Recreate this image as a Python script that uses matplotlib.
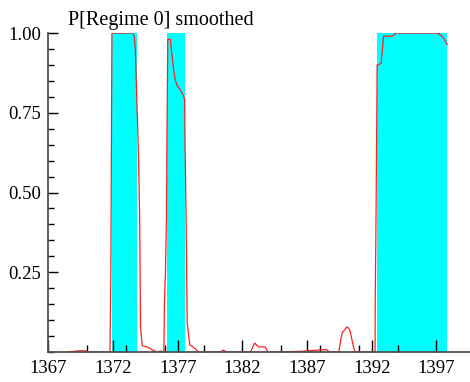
#! /usr/bin/env python3
# -*- coding: UTF-8 -*-
import matplotlib
matplotlib.use('Agg')
from matplotlib import pyplot as plt
from matplotlib.ticker import MultipleLocator, FixedLocator

# smoothed regime probability (year, probability)
years = [1368.47, 1369.40, 1369.86, 1370.02, 1371.76, 1371.83, 1371.91,
         1373.55, 1373.65, 1373.73, 1373.86, 1373.91, 1373.98, 1374.06,
         1374.12, 1374.25, 1374.76, 1375.04, 1375.41, 1375.66, 1375.93,
         1375.97, 1376.05, 1376.13, 1376.16, 1376.23, 1376.44, 1376.49,
         1376.67, 1376.82, 1376.98, 1377.21, 1377.44, 1377.54, 1377.56,
         1377.65, 1377.73, 1377.93, 1378.37, 1378.60, 1380.30, 1380.53,
         1380.77, 1382.62, 1382.95, 1383.26, 1383.78, 1383.96, 1386.49,
         1388.50, 1388.73, 1389.45, 1389.71, 1390.10, 1390.30, 1390.61,
         1390.74, 1392.26, 1392.27, 1392.34, 1392.42, 1392.47, 1392.73,
         1392.76, 1392.83, 1392.91, 1393.58, 1393.89, 1396.93, 1397.19,
         1397.45, 1397.70, 1397.84]
prob = [0.0, 0.004, 0.004, 0.0, 0.0, 0.25, 1.0,
        1.0, 0.985, 0.94, 0.76, 0.70, 0.59, 0.41,
        0.08, 0.02, 0.014, 0.006, 0.0, 0.003, 0.0,
        0.15, 0.25, 0.42, 0.64, 0.98, 0.98, 0.955,
        0.89, 0.85, 0.834, 0.821, 0.805, 0.79, 0.676,
        0.41, 0.092, 0.023, 0.01, 0.0, 0.0, 0.006,
        0.0, 0.0, 0.028, 0.016, 0.016, 0.0, 0.002,
        0.008, 0.0, 0.0, 0.06, 0.079, 0.07, 0.013,
        0.0, 0.0, 0.15, 0.45, 0.90, 0.90, 0.905,
        0.92, 0.95, 0.99, 0.99, 1.0, 1.0, 0.997,
        0.99, 0.975, 0.964]

# classified regime 0 periods (start, end)
regime_start = [1371.93, 1376.18, 1392.44]
regime_end = [1373.86, 1377.60, 1397.86]

xticks_major = [1367, 1372, 1377, 1382, 1387, 1392, 1397]
yticks_major = [0.25, 0.50, 0.75, 1.00]

plt.rcParams['font.family'] = ['Liberation Serif', 'DejaVu Serif']

fig = plt.figure(figsize=(4.70, 3.82), dpi=100)
ax = fig.add_axes([0.103, 0.0785, 0.897, 0.835])

for s, e in zip(regime_start, regime_end):
    ax.axvspan(s, e, ymin=0, ymax=1, color='#00ffff', lw=0, zorder=1)

ax.plot(years, prob, color='#ff2020', lw=0.9, zorder=3)

ax.set_xlim(1367, 1399.6)
ax.set_ylim(0, 1.0)

ax.xaxis.set_major_locator(FixedLocator(xticks_major))
ax.xaxis.set_minor_locator(MultipleLocator(3, offset=1367 % 3))
ax.yaxis.set_major_locator(FixedLocator(yticks_major))
ax.set_yticklabels(['%.2f' % v for v in yticks_major])
ax.yaxis.set_minor_locator(MultipleLocator(0.05))

ax.tick_params(axis='both', which='both', direction='in', color='black',
               labelsize=13.5, width=1.0)
ax.tick_params(axis='x', which='major', length=9, pad=6)
ax.tick_params(axis='x', which='minor', length=5)
ax.tick_params(axis='y', which='major', length=7, pad=5)
ax.tick_params(axis='y', which='minor', length=4)

for side in ['top', 'right']:
    ax.spines[side].set_visible(False)
for side in ['left', 'bottom']:
    ax.spines[side].set_color('#505050')
    ax.spines[side].set_linewidth(1.3)
    ax.spines[side].set_zorder(4)

fig.text(68 / 470, 1 - 25 / 382, 'P[Regime 0] smoothed', fontsize=14.5,
         ha='left', va='baseline')

fig.savefig('out.png', dpi=100)
